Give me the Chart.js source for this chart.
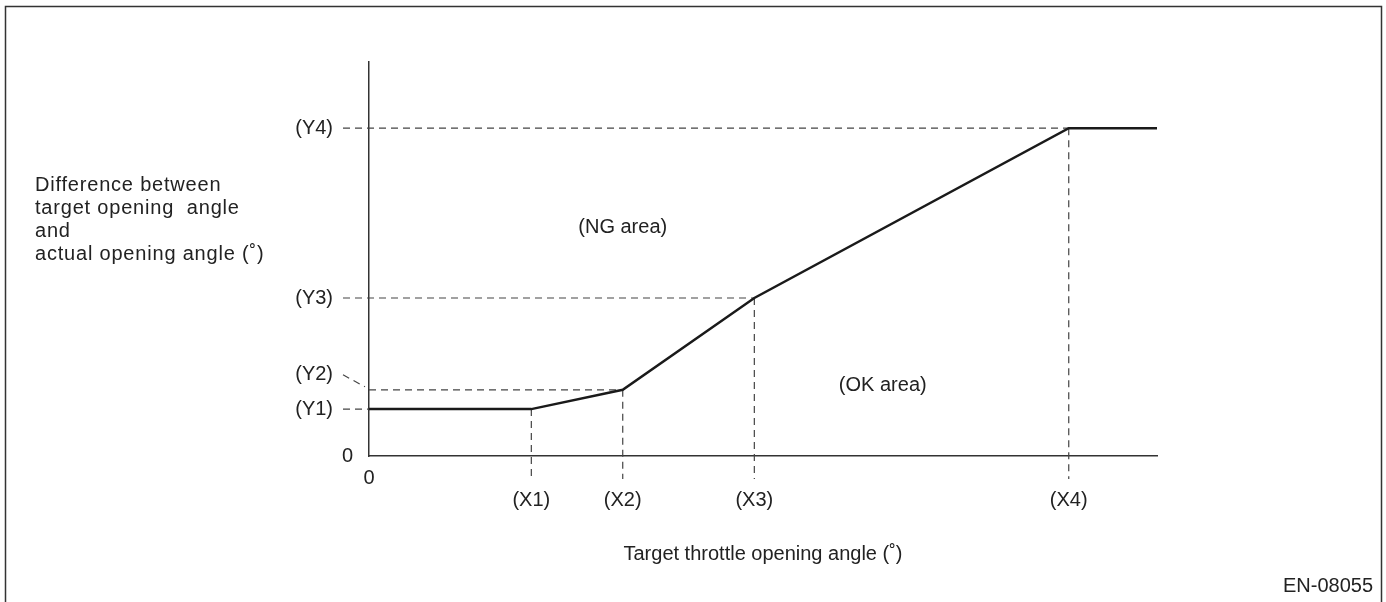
<!DOCTYPE html>
<html>
<head>
<meta charset="utf-8">
<script src="https://cdn.jsdelivr.net/npm/chart.js@4.4.1/dist/chart.umd.min.js"></script>
<style>
  body { margin: 0; background: #fff; }
  #wrap { width: 1386px; height: 602px; position: relative; }
</style>
</head>
<body>
<div id="wrap"><canvas id="chart"></canvas></div>
<script>
// 軸の目盛り位置（任意単位、0〜100）
const xLabels = ['(X1)', '(X2)', '(X3)', '(X4)'];
const xValues = [20.6, 32.2, 48.9, 88.8];
const yLabels = ['(Y1)', '(Y2)', '(Y3)', '(Y4)'];
const yValues = [11.9, 16.8, 40.1, 83.2];

// 判定ライン
const lineX = [0, 20.6, 32.2, 48.9, 88.8, 100];
const lineY = [11.9, 11.9, 16.8, 40.1, 83.2, 83.2];

// 領域ラベル
const areaLabels = ['(NG area)', '(OK area)'];
const areaX = [32.2, 65.2];
const areaY = [58.1, 17.8];

const yTitle = ['Difference between', 'target opening  angle', 'and', 'actual opening angle (˚)'];
const xTitle = 'Target throttle opening angle (˚)';
const figId = 'EN-08055';

const FONT = '"Liberation Sans", Arial, Helvetica, sans-serif';
const TEXT = '#222';

const points = lineX.map((x, i) => ({ x: x, y: lineY[i] }));

// 破線と文字を描くプラグイン
const diagramPlugin = {
    id: 'diagram',
    beforeDatasetsDraw(chart) {
        const ctx = chart.ctx;
        const xs = chart.scales.x;
        const ys = chart.scales.y;
        const x0 = xs.getPixelForValue(0);
        const yb = ys.getPixelForValue(0);
        ctx.save();
        ctx.strokeStyle = '#444';
        ctx.lineWidth = 1.2;
        ctx.setLineDash([7, 5]);
        // 横の破線
        yValues.forEach((v, i) => {
            const py = ys.getPixelForValue(v);
            const px = xs.getPixelForValue(xValues[i]);
            ctx.beginPath();
            ctx.moveTo(i === 1 ? x0 : x0 - 26, py);
            ctx.lineTo(px, py);
            ctx.stroke();
        });
        // 縦の破線
        xValues.forEach((v, i) => {
            const px = xs.getPixelForValue(v);
            const py = ys.getPixelForValue(yValues[i]);
            ctx.beginPath();
            ctx.moveTo(px, py);
            ctx.lineTo(px, yb + 23);
            ctx.stroke();
        });
        // Y2の引き出し線
        const py2 = ys.getPixelForValue(yValues[1]);
        ctx.beginPath();
        ctx.moveTo(x0 - 26, py2 - 15);
        ctx.lineTo(x0 - 4, py2 - 3);
        ctx.stroke();
        ctx.restore();
    },
    afterDraw(chart) {
        const ctx = chart.ctx;
        const xs = chart.scales.x;
        const ys = chart.scales.y;
        const x0 = xs.getPixelForValue(0);
        const yb = ys.getPixelForValue(0);
        ctx.save();
        ctx.fillStyle = TEXT;
        ctx.font = '20px ' + FONT;
        ctx.textBaseline = 'middle';

        // Y目盛り
        ctx.textAlign = 'right';
        yValues.forEach((v, i) => {
            let py = ys.getPixelForValue(v);
            if (i === 1) py -= 15;
            ctx.fillText(yLabels[i], x0 - 36, py);
        });
        ctx.fillText('0', x0 - 16, yb);

        // X目盛り
        ctx.textAlign = 'center';
        xValues.forEach((v, i) => {
            ctx.fillText(xLabels[i], xs.getPixelForValue(v), yb + 44);
        });
        ctx.fillText('0', x0, yb + 22);

        // 領域ラベル
        areaLabels.forEach((t, i) => {
            ctx.fillText(t, xs.getPixelForValue(areaX[i]), ys.getPixelForValue(areaY[i]));
        });

        // 軸タイトル
        ctx.fillText(xTitle, (chart.chartArea.left + chart.chartArea.right) / 2, yb + 98);
        ctx.textAlign = 'left';
        ctx.letterSpacing = '0.8px';
        yTitle.forEach((t, i) => {
            ctx.fillText(t, 35, 185 + i * 23);
        });
        ctx.letterSpacing = '0px';

        ctx.textAlign = 'right';
        ctx.fillText(figId, 1373, 586);

        // 外枠
        ctx.strokeStyle = '#333';
        ctx.lineWidth = 1.5;
        ctx.beginPath();
        ctx.moveTo(5.5, 650);
        ctx.lineTo(5.5, 6.5);
        ctx.lineTo(1381.5, 6.5);
        ctx.lineTo(1381.5, 650);
        ctx.stroke();
        ctx.restore();
    }
};

new Chart(document.getElementById('chart').getContext('2d'), {
    type: 'scatter',
    data: {
        datasets: [{
            data: points,
            showLine: true,
            borderColor: '#1a1a1a',
            borderWidth: 2.5,
            pointRadius: 0,
            tension: 0,
            clip: false
        }]
    },
    options: {
        responsive: true,
        maintainAspectRatio: false,
        animation: false,
        events: [],
        layout: { padding: { left: 369, right: 229, top: 62, bottom: 146 } },
        plugins: {
            legend: { display: false },
            tooltip: { enabled: false }
        },
        scales: {
            x: {
                type: 'linear',
                min: 0,
                max: 100,
                grid: { display: false, drawTicks: false },
                border: { display: true, color: '#333', width: 1.5 },
                ticks: { display: false }
            },
            y: {
                type: 'linear',
                min: 0,
                max: 100,
                grid: { display: false, drawTicks: false },
                border: { display: true, color: '#333', width: 1.5 },
                ticks: { display: false }
            }
        }
    },
    plugins: [diagramPlugin]
});
</script>
</body>
</html>
